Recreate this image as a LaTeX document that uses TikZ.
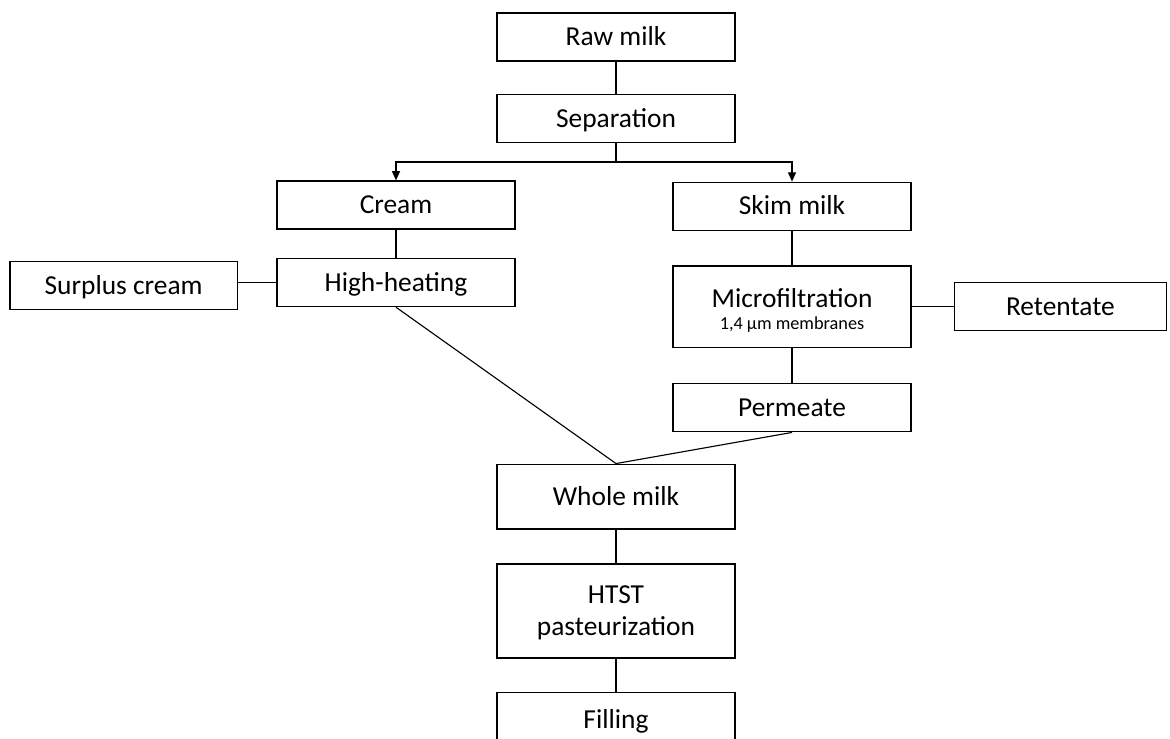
\documentclass[tikz,border=0pt]{standalone}
\usepackage{fontspec}
\setmainfont{Carlito}
\usepackage{tikz}
\usetikzlibrary{shapes,arrows.meta}
\usetikzlibrary{positioning}
\tikzset{stage/.style={draw, line width=0.9pt, rectangle, minimum width=5.95cm,
    minimum height=1.2cm, inner sep=2pt, align=center,
    text height=12.5pt, text depth=0pt,
    font=\fontsize{19.5}{23}\selectfont},
multi/.style={text height={}, text depth={}},
link/.style={line width=0.8pt}
}

\begin{document}
\begin{tikzpicture}[> = {Triangle[length=2.3mm, width=2mm]}, node distance=2cm, on grid]
    \useasboundingbox (0,0) rectangle (29.25,-18.45);
    \node[stage]                          (raw)       at (15.4,-0.925)              {Raw milk};
    \node[stage]                          (sep)       [below=2.04cm of raw]         {Separation};
    \node[stage]                          (cream)     [below left=2.16cm and 5.5cm of sep]  {Cream};
    \node[stage]                          (skim)      [below right=2.19cm and 4.4cm of sep] {Skim milk};
    \node[stage]                          (heat)      [below=1.94cm of cream]       {High-heating};
    \node[stage,minimum width=5.68cm]     (surplus)   [below left=0.07cm and 6.81cm of heat] {Surplus cream};
    \node[stage,multi,minimum height=2.03cm] (micro)  [below=2.51cm of skim]
        {\rule{0pt}{19pt}Microfiltration\\[-7pt]{\fontsize{13}{15}\selectfont 1,4 µm membranes}};
    \node[stage,minimum width=5.3cm]      (retentate) [right=6.71cm of micro]       {Retentate};
    \node[stage]                          (perm)      [below=2.53cm of micro]       {Permeate};
    \node[stage,minimum height=1.62cm]    (whole)     [below=9.45cm of sep]         {Whole milk};
    \node[stage,multi,minimum height=2.35cm] (htst)   [below=2.86cm of whole]       {\rule{0pt}{15pt}HTST\\pasteurization};
    \node[stage,minimum height=1.4cm]     (fill)      [below=2.73cm of htst]        {Filling};

    \coordinate[below=0.47cm of sep.south] (split);
    \path[link] (raw)  edge (sep)
                (cream) edge (heat)
                (skim) edge (micro)
                (micro) edge (perm)
                (micro) edge (retentate)
                (whole) edge (htst)
                (htst) edge (fill)
                (heat.south) edge (whole.north)
                (perm.south) edge (whole.north)
                (surplus.east |- heat.west) edge (heat.west);
    \draw[link] (sep.south) -- (split);
    \draw[link,->] (split) -| (cream.north);
    \draw[link,->] (split) -| (skim.north);
\end{tikzpicture}
\end{document}
